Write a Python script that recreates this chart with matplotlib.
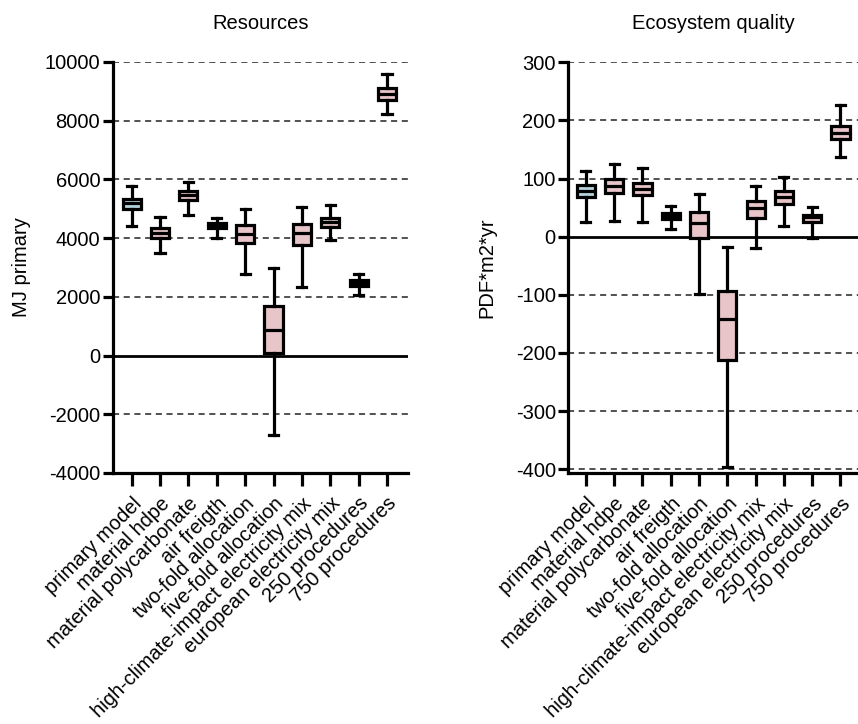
import matplotlib
matplotlib.use("Agg")
import matplotlib.pyplot as plt

plt.rcParams['font.family'] = ['Liberation Sans', 'DejaVu Sans']

categories = ["primary model", "material hdpe", "material polycarbonate", "air freigth",
              "two-fold allocation", "five-fold allocation",
              "high-climate-impact electricity mix", "european electricity mix",
              "250 procedures", "750 procedures"]

# Resources (MJ primary): whisker low, Q1, median, Q3, whisker high
res_whislo = [4415, 3490, 4780, 4000, 2775, -2690, 2345, 3930, 2060, 8240]
res_q1     = [4980, 4020, 5300, 4360, 3820, 80, 3770, 4395, 2380, 8720]
res_med    = [5185, 4190, 5470, 4450, 4155, 875, 4165, 4550, 2480, 8920]
res_q3     = [5345, 4335, 5600, 4530, 4440, 1680, 4475, 4700, 2580, 9115]
res_whishi = [5775, 4735, 5910, 4675, 4980, 2980, 5060, 5120, 2775, 9590]

# Ecosystem quality (PDF*m2*yr)
eco_whislo = [25, 27, 25, 13, -99, -397, -20, 19, -2, 137]
eco_q1     = [68, 75, 71, 30, -3, -213, 32, 57, 26, 168]
eco_med    = [79, 88, 82, 35, 24, -141, 50, 69, 33, 179]
eco_q3     = [89, 99, 92, 40, 43, -93, 62, 78, 37, 191]
eco_whishi = [113, 125, 118, 53, 73, -17, 88, 102, 51, 226]

colors = ["#b5d3dc"] + ["#e8c5c8"] * 9

FS = 14.5

fig = plt.figure(figsize=(8.58, 7.24), dpi=100)
ax1 = fig.add_axes([0.1313, 0.3467, 0.3442, 0.5677])
ax2 = fig.add_axes([0.6624, 0.3463, 0.3376, 0.5677])


def draw(ax, lo, q1, med, q3, hi, ylim, yticks, ylabel, title, xlim, labelpad):
    stats = []
    for i in range(len(categories)):
        stats.append(dict(whislo=lo[i], q1=q1[i], med=med[i], q3=q3[i], whishi=hi[i], fliers=[]))
    for t in yticks:
        if t == 0:
            ax.axhline(0, color="black", lw=2.0, zorder=1)
        else:
            ax.axhline(t, color="#222222", lw=1.1, ls=(0, (4, 3)), zorder=1)
    bp = ax.bxp(stats, positions=range(len(categories)), widths=0.64, patch_artist=True,
                showfliers=False,
                boxprops=dict(linewidth=2.3, edgecolor="black"),
                medianprops=dict(color="black", linewidth=2.3),
                whiskerprops=dict(color="black", linewidth=2.3),
                capprops=dict(color="black", linewidth=2.3),
                capwidths=0.32, zorder=3)
    for patch, c in zip(bp['boxes'], colors):
        patch.set_facecolor(c)
    ax.set_xlim(*xlim)
    ax.set_ylim(*ylim)
    ax.set_yticks(yticks)
    ax.set_yticklabels([str(t) for t in yticks], fontsize=FS)
    ax.set_xticks(range(len(categories)))
    ax.set_xticklabels(categories, rotation=45, ha="right", rotation_mode="anchor", fontsize=FS)
    for s in ["top", "right"]:
        ax.spines[s].set_visible(False)
    for s in ["left", "bottom"]:
        ax.spines[s].set_linewidth(2.3)
    ax.tick_params(axis="y", length=7, width=2.3, pad=2)
    ax.tick_params(axis="x", length=9, width=2.3, pad=6)
    ax.set_ylabel(ylabel, fontsize=FS, labelpad=labelpad)
    ax.set_title(title, fontsize=FS, pad=24)


draw(ax1, res_whislo, res_q1, res_med, res_q3, res_whishi, (-4000, 10000),
     [-4000, -2000, 0, 2000, 4000, 6000, 8000, 10000], "MJ primary", "Resources", (-0.67, 9.74), 10)
draw(ax2, eco_whislo, eco_q1, eco_med, eco_q3, eco_whishi, (-407, 300),
     [-400, -300, -200, -100, 0, 100, 200, 300], "PDF*m2*yr", "Ecosystem quality", (-0.62, 9.62), 14)

fig.savefig("out.png", dpi=100)
